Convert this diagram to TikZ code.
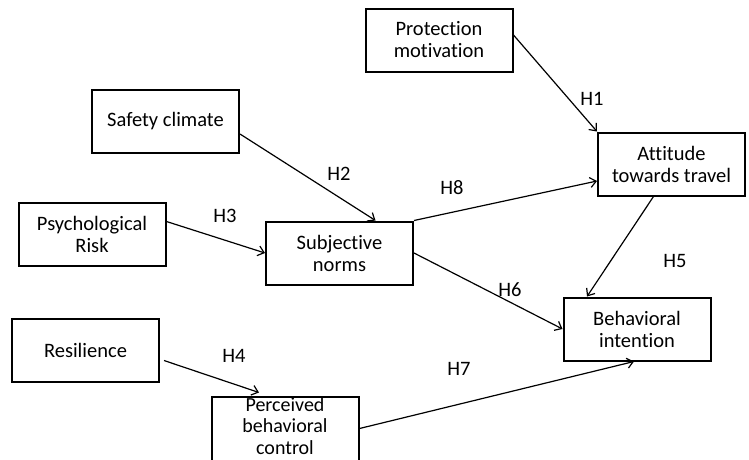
\documentclass[tikz,border=0pt]{standalone}
\usepackage{fontspec}
\setmainfont{Carlito}[Ligatures=NoCommon]
\usetikzlibrary{arrows.meta,calc}
\begin{document}
\begin{tikzpicture}[x=1pt,y=-1pt,
  box/.style={draw,line width=2pt,minimum width=147pt,minimum height=63pt,align=center,font=\fontsize{20.5}{22}\selectfont,inner sep=2pt},
  lab/.style={font=\fontsize{20.5}{22}\selectfont,inner sep=1pt},
  arr/.style={line width=1.2pt,-{Straight Barb[length=6pt,width=10pt,line width=1.2pt]}}]
\useasboundingbox (0,0) rectangle (749,459);
\node[box] (prot) at (439,40) {Protection\\motivation};
\node[box] (safe) at (165.5,121) {Safety climate};
\node[box] (att) at (671.5,164) {Attitude\\towards travel};
\node[box] (psy) at (92,234.5) {Psychological\\Risk};
\node[box] (subj) at (339.5,253) {Subjective\\norms};
\node[box] (beh) at (637,329) {Behavioral\\intention};
\node[box] (res) at (85.5,350.5) {Resilience};
\node[box,minimum height=64pt] (per) at (285,428.5) {};
\node[font=\fontsize{20}{21.5}\selectfont,align=center,inner sep=0pt] (pert) at (285,426) {Perceived\\behavioral\\control};
\node[lab] (h1) at (592,99) {H1};
\node[lab] (h2) at (339,174) {H2};
\node[lab] (h3) at (225,216) {H3};
\node[lab] (h8) at (452,188) {H8};
\node[lab] (h6) at (510,290) {H6};
\node[lab] (h5) at (675,261) {H5};
\node[lab] (h4) at (234,356) {H4};
\node[lab] (h7) at (459,369) {H7};
\draw[arr] ([yshift=5pt]prot.east) -- (att.north west);
\draw[arr] ([yshift=-13pt]safe.east) -- ([xshift=36pt]subj.north);
\draw[arr] ([yshift=13pt]psy.east) -- (subj.west);
\draw[arr] (subj.north east) -- ([yshift=-17pt]att.west);
\draw[arr] (subj.east) -- (beh.west);
\draw[arr] ([xshift=-18pt]att.south) -- ([xshift=-50pt]beh.north);
\draw[arr] ($(res.east)+(4,10)$) -- ($(per.north)+(-26,-3)$);
\draw[arr] (per.east) -- ([xshift=-3pt]beh.south);
\end{tikzpicture}
\end{document}
